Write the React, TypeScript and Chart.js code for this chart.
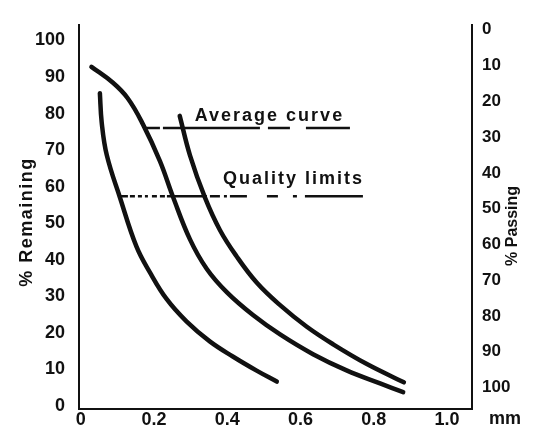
import React, { useEffect, useRef } from 'react';
import { Chart, registerables } from 'chart.js';

Chart.register(...registerables);

// Lower quality limit (left curve)
const lowerX = [0.052, 0.057, 0.071, 0.107, 0.152, 0.189, 0.234, 0.289, 0.352, 0.416, 0.480, 0.535];
const lowerY = [85.6, 77.6, 68.6, 57.0, 43.6, 36.5, 29.3, 23.1, 17.7, 13.5, 9.7, 6.7];

// Average curve (middle)
const averageX = [0.029, 0.087, 0.128, 0.169, 0.216, 0.251, 0.298, 0.344, 0.399, 0.470, 0.544, 0.634, 0.727, 0.817, 0.880];
const averageY = [92.8, 88.5, 84.2, 77.2, 67.0, 57.4, 45.6, 37.5, 31.1, 24.9, 19.6, 14.2, 9.7, 6.2, 3.8];

// Upper quality limit (right curve)
const upperX = [0.270, 0.298, 0.339, 0.380, 0.425, 0.480, 0.544, 0.617, 0.689, 0.781, 0.882];
const upperY = [79.4, 68.6, 57.0, 48.1, 41.0, 33.8, 27.6, 21.7, 16.9, 11.5, 6.5];

// Leader lines for the labels
const averageLeaderX = [0.175, 0.735];
const averageLevel = 76.1;
const qualityLeaderX = [0.104, 0.775];
const qualityLevel = 57.4;

const averageLabel = 'Average curve';
const averageLabelX = 0.311;
const qualityLabel = 'Quality limits';
const qualityLabelX = 0.388;

const xTickValues = [0, 0.2, 0.4, 0.6, 0.8, 1.0];
const xTickLabels = ['0', '0.2', '0.4', '0.6', '0.8', '1.0'];
const yTickValues = [0, 10, 20, 30, 40, 50, 60, 70, 80, 90, 100];
const leftTitle = '% Remaining';
const rightTitle = '% Passing';
const unitLabel = 'mm';

const INK = '#111';
const FAMILY = '"Liberation Sans", Arial, sans-serif';
const TICK_FONT = { family: FAMILY, size: 18, weight: 'bold' as const };
const RIGHT_TICK_FONT = { family: FAMILY, size: 17, weight: 'bold' as const };

const toPoints = (xs: number[], ys: number[]) => xs.map((x, i) => ({ x, y: ys[i] }));

const textPlugin = {
  id: 'textPlugin',
  afterDraw(chart: any) {
    const { ctx, chartArea, scales } = chart;
    const xs = scales.x;
    const ys = scales.y;
    ctx.save();
    ctx.fillStyle = INK;
    ctx.font = `bold 18px ${FAMILY}`;
    ctx.letterSpacing = '2px';
    ctx.textAlign = 'left';
    ctx.textBaseline = 'alphabetic';
    ctx.fillText(averageLabel, xs.getPixelForValue(averageLabelX), ys.getPixelForValue(averageLevel) - 7);
    ctx.fillText(qualityLabel, xs.getPixelForValue(qualityLabelX), ys.getPixelForValue(qualityLevel) - 12);

    const midY = (chartArea.top + chartArea.bottom) / 2;
    // left title
    ctx.save();
    ctx.letterSpacing = '1.5px';
    ctx.translate(chartArea.left - 52, midY + 5);
    ctx.rotate(-Math.PI / 2);
    ctx.textAlign = 'center';
    ctx.textBaseline = 'middle';
    ctx.fillText(leftTitle, 0, 0);
    ctx.restore();
    // right title
    ctx.save();
    ctx.letterSpacing = '0px';
    ctx.font = `bold 16px ${FAMILY}`;
    ctx.translate(chartArea.right + 41, midY + 9);
    ctx.rotate(-Math.PI / 2);
    ctx.textAlign = 'center';
    ctx.textBaseline = 'middle';
    ctx.fillText(rightTitle, 0, 0);
    ctx.restore();
    // unit
    ctx.letterSpacing = '0px';
    ctx.textAlign = 'center';
    ctx.textBaseline = 'top';
    ctx.fillText(unitLabel, chartArea.right + 33, chartArea.bottom + 1);
    ctx.restore();
  },
};

export default function App() {
  const canvasRef = useRef<HTMLCanvasElement | null>(null);

  useEffect(() => {
    document.body.style.margin = '0';
    const canvas = canvasRef.current;
    if (!canvas) return;

    const curveStyle = {
      borderColor: INK,
      borderWidth: 4.5,
      pointRadius: 0,
      fill: false,
      tension: 0.4,
      borderCapStyle: 'round' as const,
      borderJoinStyle: 'round' as const,
    };

    const chart = new Chart(canvas, {
      type: 'line',
      data: {
        datasets: [
          { ...curveStyle, label: 'Lower limit', data: toPoints(lowerX, lowerY) },
          { ...curveStyle, label: 'Average', data: toPoints(averageX, averageY) },
          { ...curveStyle, label: 'Upper limit', data: toPoints(upperX, upperY) },
          {
            label: 'Average leader',
            data: averageLeaderX.map((x) => ({ x, y: averageLevel })),
            borderColor: INK,
            borderWidth: 2.5,
            pointRadius: 0,
            borderDash: [15, 3, 97, 8, 22, 16, 44, 20],
          },
          {
            label: 'Quality leader',
            data: qualityLeaderX.map((x) => ({ x, y: qualityLevel })),
            borderColor: INK,
            borderWidth: 2.5,
            pointRadius: 0,
            borderDash: [9, 2, 5, 3, 4, 3, 3, 4, 5, 3, 5, 2, 40, 3, 10, 4, 3, 3, 17, 20, 11, 15, 4, 8, 58, 20],
          },
        ],
      },
      options: {
        animation: false,
        responsive: true,
        maintainAspectRatio: false,
        layout: { padding: { top: 17, left: 0, right: 0, bottom: 0 } },
        plugins: { legend: { display: false }, tooltip: { enabled: false } },
        scales: {
          x: {
            type: 'linear',
            position: 'bottom',
            min: -0.005,
            max: 1.068,
            grid: { display: false, drawTicks: false },
            border: { display: true, color: INK, width: 2 },
            afterBuildTicks: (axis: any) => {
              axis.ticks = xTickValues.map((value) => ({ value }));
            },
            afterFit: (axis: any) => {
              axis.height = 28;
            },
            ticks: {
              color: INK,
              font: TICK_FONT,
              padding: 0,
              maxRotation: 0,
              autoSkip: false,
              callback: (_v: any, i: number) => xTickLabels[i],
            },
          },
          y: {
            type: 'linear',
            position: 'left',
            min: -0.8,
            max: 104.3,
            grid: { display: false, drawTicks: false },
            border: { display: true, color: INK, width: 2 },
            afterBuildTicks: (axis: any) => {
              axis.ticks = yTickValues.map((value) => ({ value }));
            },
            afterFit: (axis: any) => {
              axis.width = 79;
            },
            ticks: { color: INK, font: TICK_FONT, padding: 14, autoSkip: false, callback: (v: any) => String(v) },
          },
          y1: {
            type: 'linear',
            position: 'right',
            reverse: true,
            min: -1.37,
            max: 106,
            grid: { display: false, drawTicks: false },
            border: { display: true, color: INK, width: 2 },
            afterBuildTicks: (axis: any) => {
              axis.ticks = yTickValues.map((value) => ({ value }));
            },
            afterFit: (axis: any) => {
              axis.width = 70;
            },
            ticks: { color: INK, font: RIGHT_TICK_FONT, padding: 10, autoSkip: false, callback: (v: any) => String(v) },
          },
        },
      },
      plugins: [textPlugin],
    } as any);

    return () => chart.destroy();
  }, []);

  return (
    <div style={{ position: 'relative', width: 542, height: 437, background: '#fff' }}>
      <canvas ref={canvasRef} />
    </div>
  );
}
